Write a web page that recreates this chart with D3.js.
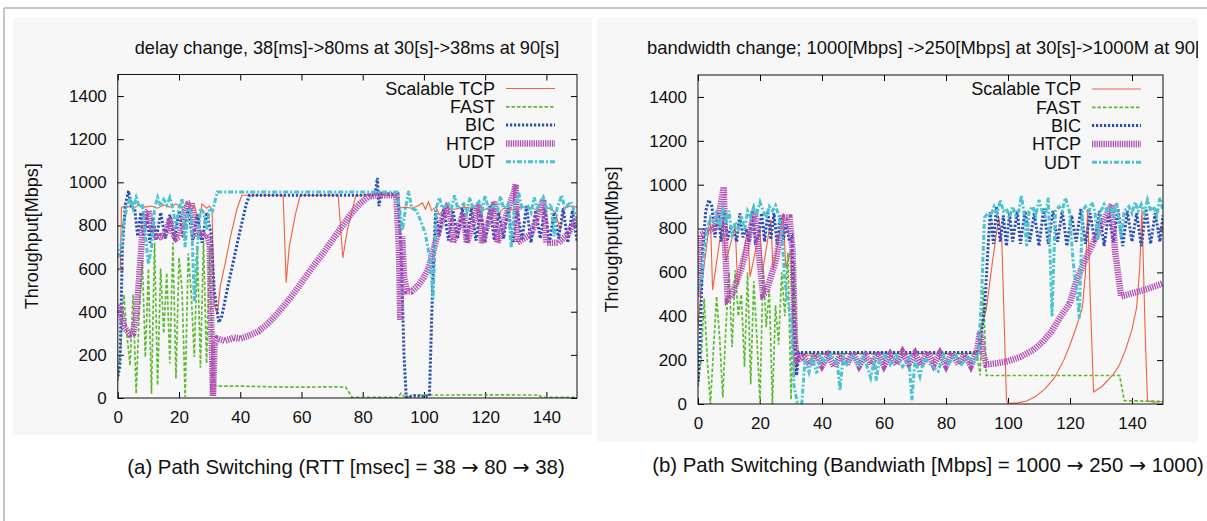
<!DOCTYPE html>
<html>
<head>
<meta charset="utf-8">
<script src="https://cdn.jsdelivr.net/npm/d3@7/dist/d3.min.js"></script>
<style>
	body { margin: 0; background: #fff; }
	svg { display: block; font-family: "Liberation Sans", Arial, sans-serif; }
</style>
</head>
<body>
<div class="chart"></div>
<script>
// labels
let seriesNames = ['Scalable TCP', 'FAST', 'BIC', 'HTCP', 'UDT'];
let xTicks = [0, 20, 40, 60, 80, 100, 120, 140];
let yTicks = [0, 200, 400, 600, 800, 1000, 1200, 1400];
let yLabel = 'Throughput[Mbps]';
let titles = [
	'delay change, 38[ms]->80ms at 30[s]->38ms at 90[s]',
	'bandwidth change; 1000[Mbps] ->250[Mbps] at 30[s]->1000M at 90[s]'
];
let captions = [
	'(a) Path Switching (RTT [msec] = 38 \u2192 80 \u2192 38)',
	'(b) Path Switching (Bandwiath [Mbps] = 1000 \u2192 250 \u2192 1000)'
];

// (a) delay change -- [time s, Mbps]
let leftScalable = [[0,590],[0.8,600],[1.2,885],[3,890],[5,880],[7,895],[9,885],[11,890],[13,880],[15,895],[17,885],[19,900],[21,880],[23,905],[24,870],[25,895],[26.5,815],[27.5,900],[29,880],[30,890],[30.8,870],[31.5,430],[32.5,390],[33.5,520],[35,620],[37,760],[39,880],[40.5,940],[54,940],[55,535],[56,700],[58,850],[59.6,940],[72,940],[73.5,650],[75,780],[77.8,940],[91,940],[91.8,880],[94,885],[96,880],[98,890],[99.5,905],[100.5,875],[101.5,910],[102.5,870],[104,885],[105,850],[107,880],[110,875],[113,885],[116,880],[119,870],[122,885],[124,850],[126,880],[129,875],[132,885],[135,880],[138,870],[141,880],[143,860],[144.5,780],[146,880],[148,890],[150,885]];
let leftFast = [[0,80],[1,250],[2,480],[3,290],[4,150],[5,480],[6,20],[7,400],[8,640],[9,190],[10,600],[11,20],[12,720],[13,60],[14,600],[15,300],[16,580],[17,160],[18,720],[19,90],[20,650],[21,500],[22,5],[23,670],[24,480],[25,190],[26,690],[27,140],[28,730],[29,160],[30,700],[31,100],[32,55],[40,55],[50,52],[60,50],[70,52],[74.5,50],[76.5,3],[91.5,3],[92.5,22],[93.5,8],[95,5],[96.5,14],[110,14],[120,15],[130,14],[137.5,14],[138.5,3],[150,3]];
let leftBic = [[0,100],[0.7,150],[1.5,700],[2.5,900],[3.5,960],[4.5,880],[5.5,880],[6.5,750],[7.5,860],[8.5,740],[9.5,850],[10.5,720],[11.5,840],[12.5,730],[14,860],[15.5,740],[17,850],[18.5,730],[20,870],[21.5,740],[23,880],[24.5,730],[26,850],[27.5,720],[29,860],[30.5,760],[31.5,500],[33,350],[34,380],[36,520],[38,650],[40,780],[42,900],[43,940],[84,940],[84.8,1020],[85.3,890],[86,950],[91.5,940],[92.5,700],[93.5,200],[94.2,5],[97,10],[100,8],[101.8,10],[102.8,500],[103.8,870],[105,750],[106.5,880],[108,730],[109.5,870],[111,740],[112.5,880],[114,720],[115.5,880],[117,730],[118.5,870],[120,720],[121.5,890],[123,730],[124.5,860],[126,740],[127.5,880],[129,720],[130.5,870],[132,730],[133.5,890],[135,720],[136.5,870],[138,740],[139.5,880],[141,720],[142.5,860],[144,740],[145.5,880],[147,720],[148.5,870],[150,730]];
let leftHtcp = [[0,430],[1,400],[2,330],[4,295],[5,300],[6,380],[7,560],[8,760],[9,850],[10,870],[11,800],[12,755],[13,740],[14,750],[15,745],[16,780],[17,830],[18,760],[19,740],[20,750],[21,800],[22,870],[23,900],[24,905],[25,800],[26,750],[27,760],[28,750],[29,760],[30,720],[30.6,300],[31.1,10],[31.6,250],[32.5,275],[35,265],[38,280],[40,275],[43,290],[46,310],[49,345],[52,390],[55,440],[58,495],[61,555],[64,615],[67,670],[70,730],[73,790],[76,850],[79,900],[82,935],[85,940],[91,940],[91.8,700],[92.3,360],[92.9,750],[93.5,560],[94.5,495],[96,495],[98,520],[100,560],[101.5,600],[103,680],[104.5,760],[106,830],[107.5,880],[108.5,860],[109.5,720],[113,860],[114,720],[118,900],[119,720],[123,910],[124,720],[129.5,960],[130,990],[130.5,720],[135,760],[139,920],[140,720],[144,720],[147,760],[150,830]];
let leftUdt = [[0,650],[1,700],[2,820],[3,885],[4,930],[5,880],[6,930],[7,885],[8,900],[9,760],[10,620],[11,700],[12,880],[13,930],[14,890],[15,920],[16,895],[17,930],[18,880],[19,790],[20,880],[21,925],[22,700],[23,880],[24,860],[25,450],[26,700],[27,880],[28,860],[29,780],[30,880],[31,870],[32.5,955],[90,955],[91.2,955],[92,880],[93,780],[94,880],[95,960],[96,880],[97.5,870],[99,820],[100.5,760],[102,640],[103,460],[104,880],[105,930],[106,880],[108,900],[109,880],[110,940],[111,880],[113,900],[114,860],[115,930],[116,880],[118,910],[119,870],[120,940],[121,880],[123,890],[124,860],[125,935],[126,880],[127.5,900],[128.5,700],[129.5,880],[131,950],[132,880],[134,890],[135,860],[136,930],[137,880],[139,930],[140,880],[141.5,900],[142.5,750],[143.5,880],[145,940],[146,880],[148,910],[150,830]];

// (b) bandwidth change
let rightScalable = [[0,350],[1,520],[4,860],[4.7,520],[8,840],[9,650],[12,810],[12.8,540],[16,790],[16.8,580],[20,800],[20.8,600],[23.5,840],[24.2,610],[27.5,870],[28.3,620],[30,700],[31,120],[32.5,220],[40,225],[50,230],[60,228],[70,230],[80,228],[90,230],[91,330],[93,430],[95,650],[97,850],[98,750],[99.5,20],[100,2],[103,5],[106,14],[109,35],[112,70],[115,120],[118,200],[120,270],[122,350],[124,440],[125,600],[125.7,890],[126.5,500],[127.6,55],[130.4,81],[134,135],[136,180],[138,250],[140,340],[141.5,440],[142.5,620],[143.2,885],[144.3,300],[145,15],[147,8],[150,10]];
let rightFast = [[0,80],[1,200],[2,480],[3,200],[4,0],[5,250],[6,490],[7,300],[8,30],[9,350],[10,600],[11,260],[12,610],[13,400],[14,500],[15,170],[16,600],[17,90],[18,560],[19,300],[20,5],[21,630],[22,350],[23,520],[24,0],[25,450],[26,270],[27,600],[28,400],[29,690],[30,20],[31,650],[32,230],[40,230],[60,230],[80,230],[90,230],[91,130],[92,530],[93,130],[110,130],[120,130],[130,130],[136,130],[137.5,15],[150,12]];
let rightBic = [[0,100],[0.6,250],[1.5,700],[2.5,880],[3.5,930],[4.5,900],[5.5,760],[6.5,870],[7.5,740],[8.5,880],[9.5,750],[10.5,800],[11.5,790],[12.5,740],[13.5,870],[14.5,760],[15.5,800],[16.5,740],[17.5,880],[18.5,740],[19.5,760],[20.5,870],[21.5,740],[22.5,880],[23.5,750],[24.5,870],[25.5,730],[26.5,860],[27.5,750],[28.5,820],[29.5,740],[30.3,760],[31,400],[31.8,130],[32.5,235],[90,235],[91,280],[92.5,440],[93.5,700],[94.3,875],[95.3,730],[96.3,900],[97.5,740],[98.5,860],[99.5,720],[100.5,870],[101.5,740],[103,880],[104,730],[105.5,880],[107,740],[108.5,870],[110,720],[111.5,890],[113,730],[114.5,880],[116,740],[117.5,880],[119,720],[120.5,860],[122,740],[123.5,890],[125,730],[126.5,870],[128,740],[129.5,880],[131,720],[132.5,870],[134,740],[135.5,890],[137,720],[138.5,880],[140,740],[141.5,870],[143,720],[144.5,890],[146,730],[147.5,870],[149,740],[150,860]];
let rightHtcp = [[0,490],[0.8,770],[2,780],[3.5,790],[5,800],[6.5,850],[7.5,920],[8.3,990],[8.8,700],[9.6,480],[11,500],[12.5,560],[14,620],[15.5,700],[17,800],[18.3,875],[19.5,700],[21,500],[22,510],[23.5,580],[25,650],[26.5,760],[28,850],[29.5,850],[30.5,700],[31.3,280],[32,200],[34,215],[36,180],[38,225],[40,175],[42,220],[44,170],[46,225],[48,180],[50,235],[52,175],[54,220],[56,180],[58,235],[60,175],[62,225],[64,180],[66,235],[68,185],[70,230],[72,175],[74,240],[76,180],[78,230],[80,175],[82,235],[84,180],[86,225],[88,175],[90,240],[91,330],[92,230],[93,180],[96,185],[100,195],[104,215],[108,245],[111,280],[114,330],[117,400],[120,460],[122,560],[125,660],[128,750],[131,840],[133.5,910],[134.5,700],[136.5,490],[140,505],[145,525],[150,550]];
let rightUdt = [[0,520],[1,540],[2,700],[3,800],[4,850],[5,830],[6,880],[7,800],[8,900],[9,820],[10,880],[11,760],[12,830],[13,800],[14,860],[15,790],[16,880],[17,850],[18,900],[19,870],[20,920],[21,880],[22,850],[23,900],[24,880],[25,905],[26,860],[27,790],[28,560],[29,470],[30,380],[31,80],[32,10],[33.5,5],[34.5,200],[35.8,145],[36.8,215],[38.3,140],[39.5,220],[41,190],[43,225],[45,180],[45.8,65],[46.8,210],[48,180],[50,220],[52,175],[53.5,215],[55.7,120],[57,215],[57.5,105],[58.5,200],[60,225],[62,180],[64,220],[66,170],[68,210],[69,18],[70,200],[71.6,125],[73,210],[75,180],[77.5,150],[79,220],[81,185],[83,225],[85,180],[87,215],[89,190],[90.5,230],[91.5,500],[92.4,850],[93.5,870],[94.5,860],[95.5,900],[96.5,870],[97.5,930],[98.5,880],[99.5,890],[100.5,850],[101.5,900],[102.5,860],[103.5,880],[104.3,950],[105.2,870],[106,720],[106.8,880],[108,900],[109,860],[110,930],[111,880],[112,860],[113,940],[114.2,400],[115.3,880],[116.5,900],[117.5,880],[118.5,940],[119.8,880],[121,650],[122.3,500],[123,390],[124,880],[125,900],[126,870],[127,920],[128,880],[129,750],[130,880],[131,910],[132,880],[133,900],[134,860],[135,920],[136.5,760],[137.5,880],[139,900],[140,870],[141,920],[142,880],[143,910],[144,870],[145,930],[146,880],[147,900],[148,860],[149,940],[150,880]];

let width = 1207;
let height = 521;

let svg = d3.select('.chart')
	.append('svg')
	.attr('width', width)
	.attr('height', height);

// line styles, same order as seriesNames
let styles = [
	{color: '#f2603f', width: 1.1, dash: null},
	{color: '#5cbb33', width: 1.7, dash: '3.5,2'},
	{color: '#2b4fb5', width: 3, dash: '2.2,1.8'},
	{color: '#b04fb5', width: 6.5, dash: '1.3,1'},
	{color: '#4cc3cf', width: 3, dash: '5,2,2,2'}
];

// page frame
svg.append('line')
	.attr('x1', 4).attr('y1', 8).attr('x2', width).attr('y2', 8)
	.style('stroke', '#c6c6c6').style('stroke-width', 2);
svg.append('line')
	.attr('x1', 4).attr('y1', 8).attr('x2', 4).attr('y2', height)
	.style('stroke', '#c6c6c6').style('stroke-width', 2);

let panels = [
	{bg: [13, 18, 579, 417], left: 117.8, right: 577, top: 74.5, bottom: 398,
		titleX: 347, titleAnchor: 'middle', capX: 346, capY: 474, labX: 32,
		series: [leftScalable, leftFast, leftBic, leftHtcp, leftUdt]},
	{bg: [597, 18, 601, 424], left: 698, right: 1163, top: 75, bottom: 404,
		titleX: 647, titleAnchor: 'start', capX: 928, capY: 472, labX: 612,
		series: [rightScalable, rightFast, rightBic, rightHtcp, rightUdt]}
];

panels.forEach((p, k) => {
	svg.append('rect')
		.attr('x', p.bg[0]).attr('y', p.bg[1])
		.attr('width', p.bg[2]).attr('height', p.bg[3])
		.style('fill', '#f7f7f7');

	// title, clipped at the panel edge like in the picture
	svg.append('clipPath').attr('id', 'tclip' + k)
		.append('rect')
		.attr('x', p.bg[0]).attr('y', 0)
		.attr('width', p.bg[2]).attr('height', 80);
	svg.append('text')
		.attr('x', p.titleX).attr('y', 54)
		.attr('clip-path', 'url(#tclip' + k + ')')
		.style('text-anchor', p.titleAnchor)
		.style('font-size', k ? '18.4px' : '18.2px')
		.style('fill', '#111')
		.text(titles[k]);

	let xScale = d3.scaleLinear().domain([0, 150]).range([p.left, p.right]);
	let yScale = d3.scaleLinear().domain([0, 1500]).range([p.bottom, p.top]);

	// axes, ticks pointing inside on all four sides
	let bottomAxis = svg.append('g')
		.attr('transform', 'translate(0,' + p.bottom + ')')
		.call(d3.axisBottom(xScale).tickValues(xTicks).tickSize(-6).tickPadding(13).tickFormat(d3.format('d')));
	let leftAxis = svg.append('g')
		.attr('transform', 'translate(' + p.left + ',0)')
		.call(d3.axisLeft(yScale).tickValues(yTicks).tickSize(-6).tickPadding(11).tickFormat(d3.format('d')));
	svg.append('g')
		.attr('transform', 'translate(0,' + p.top + ')')
		.call(d3.axisTop(xScale).tickValues(xTicks).tickSize(-6).tickFormat(''));
	svg.append('g')
		.attr('transform', 'translate(' + p.right + ',0)')
		.call(d3.axisRight(yScale).tickValues(yTicks).tickSize(-6).tickFormat(''));

	svg.selectAll('.domain').remove();
	[bottomAxis, leftAxis].forEach(a => {
		a.selectAll('text')
			.style('font-size', '17px')
			.style('font-family', '"Liberation Sans", Arial, sans-serif')
			.style('fill', '#111');
	});

	svg.append('clipPath').attr('id', 'pclip' + k)
		.append('rect')
		.attr('x', p.left).attr('y', p.top)
		.attr('width', p.right - p.left).attr('height', p.bottom - p.top);

	let line = d3.line()
		.x(d => xScale(d[0]))
		.y(d => yScale(d[1]));

	svg.append('g')
		.attr('clip-path', 'url(#pclip' + k + ')')
		.selectAll('.line')
		.data(p.series)
		.enter()
		.append('path')
		.attr('class', 'line')
		.attr('d', d => line(d))
		.style('fill', 'none')
		.style('stroke', (d, i) => styles[i].color)
		.style('stroke-width', (d, i) => styles[i].width)
		.style('stroke-dasharray', (d, i) => styles[i].dash);

	svg.append('rect')
		.attr('x', p.left).attr('y', p.top)
		.attr('width', p.right - p.left).attr('height', p.bottom - p.top)
		.style('fill', 'none')
		.style('stroke', '#111')
		.style('stroke-width', 1);

	// legend, top right inside the frame
	let legend = svg.append('g');
	seriesNames.forEach((name, i) => {
		let ly = p.top + 14 + i * 18.3;
		legend.append('text')
			.attr('x', p.right - 82).attr('y', ly).attr('dy', '0.35em')
			.style('text-anchor', 'end')
			.style('font-size', '18px')
			.style('fill', '#111')
			.text(name);
		legend.append('line')
			.attr('x1', p.right - 71).attr('x2', p.right - 22)
			.attr('y1', ly).attr('y2', ly)
			.style('stroke', styles[i].color)
			.style('stroke-width', styles[i].width)
			.style('stroke-dasharray', styles[i].dash);
	});

	svg.append('text')
		.attr('transform', 'translate(' + p.labX + ',' + (p.top + p.bottom) / 2 + ') rotate(-90)')
		.attr('dy', '0.35em')
		.style('text-anchor', 'middle')
		.style('font-size', '18px')
		.style('fill', '#111')
		.text(yLabel);

	// caption; arrows taken from DejaVu, the Liberation one is tiny
	let cap = svg.append('text')
		.attr('x', p.capX).attr('y', p.capY)
		.style('text-anchor', 'middle')
		.style('font-size', '20.4px')
		.style('fill', '#111');
	captions[k].split(/(\u2192)/).forEach(part => {
		cap.append('tspan')
			.style('font-family', part === '\u2192' ? '"DejaVu Sans"' : null)
			.text(part);
	});
});
</script>
</body>
</html>
